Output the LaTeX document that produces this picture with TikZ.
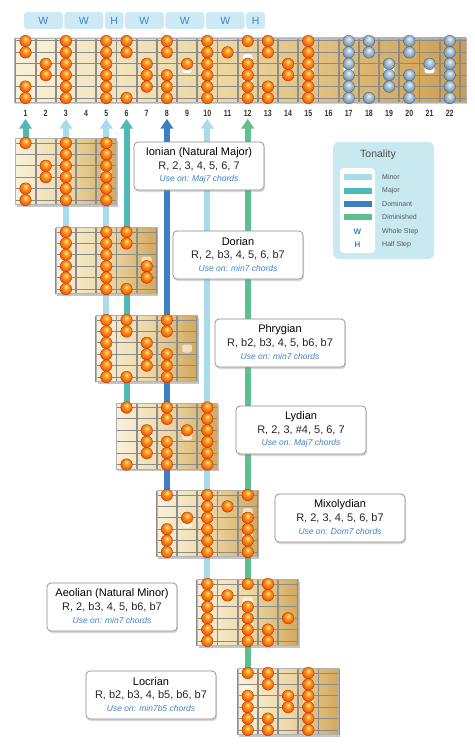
\documentclass[tikz,border=0pt]{standalone}
\usepackage{fontspec}
\setmainfont{Liberation Sans}
\usetikzlibrary{shadows}
\definecolor{minorc}{HTML}{A9DBE9}
\definecolor{majorc}{HTML}{4EB9B6}
\definecolor{domc}{HTML}{3E7FC3}
\definecolor{dimc}{HTML}{5CC18D}
\definecolor{stepbg}{HTML}{CDE9F3}
\definecolor{steptxt}{HTML}{3C86C6}
\definecolor{legbg}{HTML}{C9E9F1}
\definecolor{boardlight}{HTML}{F9F1D8}
\definecolor{boardmid}{HTML}{EAD39C}
\definecolor{boarddark}{HTML}{CC9E4E}
\definecolor{fretc}{HTML}{8C8C8C}
\definecolor{strc}{HTML}{8A8A8A}
\definecolor{usec}{HTML}{3F83C7}
\definecolor{framec}{HTML}{8A8A8A}
\definecolor{dotin}{HTML}{FFF0A0}
\definecolor{dotmid}{HTML}{FF9C1C}
\definecolor{dotout}{HTML}{E8440C}
\definecolor{dotrim}{HTML}{B02808}
\definecolor{bdotin}{HTML}{EEF4FA}
\definecolor{bdotmid}{HTML}{ADC4D8}
\definecolor{bdotout}{HTML}{5E7E9C}
\definecolor{bdotrim}{HTML}{3F5A75}
\definecolor{numc}{HTML}{333333}
\definecolor{legtxt}{HTML}{555555}

\pgfdeclareradialshading{odotshade}{\pgfpoint{0bp}{10bp}}{color(0bp)=(dotin); color(11bp)=(dotmid); color(30bp)=(dotout); color(43bp)=(dotout); color(50bp)=(dotrim)}
\pgfdeclareradialshading{bdotshade}{\pgfpoint{0bp}{10bp}}{color(0bp)=(bdotin); color(12bp)=(bdotmid); color(32bp)=(bdotout); color(44bp)=(bdotout); color(50bp)=(bdotrim)}

\newcommand\FX[1]{(25.5+20.2*(#1-1))}

\tikzset{
  odot/.style={shade, shading=odotshade, draw=dotrim, line width=0.3pt},
  bdot/.style={shade, shading=bdotshade, draw=bdotrim, line width=0.3pt},
  fretline/.style={draw=fretc, line width=1.8pt},
  stringline/.style={draw=strc, line width=1pt},
  inlay/.style={fill=white, draw=gray!45, line width=0.3pt, rounded corners=2.5pt},
  sinlay/.style={fill=white, fill opacity=0.6, rounded corners=2.5pt},
  modebox/.style={draw=framec, fill=white, rounded corners=4pt, line width=0.7pt, minimum width=130pt, minimum height=48pt, inner sep=0pt, drop shadow={shadow xshift=1pt, shadow yshift=-2pt, opacity=0.3}},
  titletxt/.style={font=\fontsize{11}{12}\selectfont, text=black, inner sep=0pt},
  inttxt/.style={font=\fontsize{11}{12}\selectfont, text=black!85, inner sep=0pt},
  usetxt/.style={font=\itshape\fontsize{8.5}{10}\selectfont, text=usec, inner sep=0pt},
  stepbox/.style={fill=stepbg, rounded corners=3pt, inner sep=0pt},
  steplabel/.style={font=\fontsize{10.5}{11}\selectfont, text=steptxt},
  fretnum/.style={font=\bfseries\fontsize{9}{10}\selectfont, text=numc, inner sep=0pt},
  legtext/.style={font=\fontsize{7}{8}\selectfont, text=legtxt, anchor=west, inner sep=0pt},
  tonline/.style={line width=6pt},
}

\newcommand\smallboard[3]{%
  \pgfmathsetmacro\bl{\FX{#1}-10}%
  \pgfmathsetmacro\br{\FX{#1}+4*20.2+10}%
  \pgfmathsetmacro\bt{#2-4.5}%
  \pgfmathsetmacro\bb{#2+57+4.5}%
  \path[drop shadow={shadow xshift=1.5pt,shadow yshift=-2pt,opacity=0.45}, left color=boardlight, right color=boarddark!80!boardmid, middle color=boardmid!80!boardlight] (\bl,\bt) rectangle (\br,\bb);
  \foreach \f in {3,5,7,9,15}{%
    \ifnum\f<#1\relax\else\ifnum\f>\numexpr#1+4\relax\else
      \path[sinlay] ({\FX{\f}-5},{#2+28.5-4}) rectangle ({\FX{\f}+5},{#2+28.5+4});
    \fi\fi}
  \ifnum12<#1\relax\else\ifnum12>\numexpr#1+4\relax\else
    \path[sinlay] ({\FX{12}-5},{#2+17-4}) rectangle ({\FX{12}+5},{#2+17+4});
    \path[sinlay] ({\FX{12}-5},{#2+40-4}) rectangle ({\FX{12}+5},{#2+40+4});
  \fi\fi
  \foreach \k in {0,...,5}{\draw[fretline] ({\bl+20.2*\k},\bt) -- ({\bl+20.2*\k},\bb);}
  \foreach \s in {0,...,5}{\draw[stringline] (\bl,{#2+11.4*\s}) -- (\br,{#2+11.4*\s});}
  \draw[gray!60, line width=0.4pt] (\bl,\bt) rectangle (\br,\bb);
  \foreach \f/\ss in {#3}{\foreach \s in \ss {\path[odot] ({\FX{\f}},{#2+11.4*(\s-1)}) circle (5.8pt);}}
}

\newcommand\modebox[6]{%
  \node[modebox] (#1) at (#2,#3) {};
  \node[titletxt] (#1-t) at (#2,#3-13) {#4};
  \node[inttxt] (#1-i) at (#2,#3) {#5};
  \node[usetxt] (#1-u) at (#2,#3+13.5) {#6};
}

\begin{document}
\begin{tikzpicture}[x=1pt,y=-1pt]
\useasboundingbox (0,0) rectangle (474,752);
\fill[white] (0,0) rectangle (474,752);

% step boxes
\foreach \a/\b/\t [count=\i] in {1/3/W,3/5/W,5/6/H,6/8/W,8/10/W,10/12/W,12/13/H}{
  \pgfmathsetmacro\xa{\FX{\a}-1.5}
  \pgfmathsetmacro\xb{\FX{\b}-3}
  \pgfmathsetmacro\xw{\xb-\xa}
  \node[stepbox, steplabel, minimum width=\xw pt, minimum height=17pt] (st\i) at ({(\xa+\xb)/2},20.5) {\t};
}

% top board
\path[drop shadow={shadow xshift=1pt,shadow yshift=-1.5pt,opacity=0.35}, left color=boardlight, right color=boarddark, middle color=boardmid] (14,38) rectangle (466,102);
\foreach \f in {3,5,7,9,15,17,19,21}{
  \path[inlay] ({\FX{\f}-5},65.5) rectangle ({\FX{\f}+5},73.5);}
\path[inlay] ({\FX{12}-5},54) rectangle ({\FX{12}+5},62);
\path[inlay] ({\FX{12}-5},77) rectangle ({\FX{12}+5},85);
\foreach \f in {1,...,23}{\draw[fretline] ({\FX{\f}-10},38) -- ({\FX{\f}-10},102);}
\foreach \s in {0,...,5}{\draw[stringline] (14,{41+11.4*\s}) -- (466,{41+11.4*\s});}
\draw[gray!60, line width=0.4pt] (14,38) rectangle (466,102);
\foreach \f/\ss in {1/{1,2,5,6},2/{3,4},3/{1,...,6},5/{1,...,6},6/{1,2,6},7/{3,4,5},8/{1,2,4,5,6},9/{3},10/{1,...,6},11/{2},12/{1,3,4,5,6},13/{1,2,5,6},14/{3,4},15/{1,...,6}}{
  \foreach \s in \ss {\path[odot] ({\FX{\f}},{41+11.4*(\s-1)}) circle (5.8pt);}}
\foreach \f/\ss in {17/{1,...,6},18/{1,2,6},19/{3,4,5},20/{1,2,4,5,6},21/{3},22/{1,...,6}}{
  \foreach \s in \ss {\path[bdot] ({\FX{\f}},{41+11.4*(\s-1)}) circle (5.8pt);}}

% fret numbers
\foreach \f in {1,...,22}{\node[fretnum] (n\f) at ({\FX{\f}},113) {\scalebox{0.78}[1]{\f}};}

% tonality lines and arrows
\foreach \f/\c/\yb [count=\i] in {1/majorc/138.5,3/minorc/227.5,5/minorc/315.5,6/majorc/403,8/domc/490.5,10/minorc/579.5,12/dimc/668.5}{
  \coordinate (ta\i) at ({\FX{\f}},127);
  \coordinate (tb\i) at ({\FX{\f}},\yb+2);
  \draw[tonline, draw=\c] (ta\i) -- (tb\i);
  \fill[fill=\c] ({\FX{\f}},119) -- ({\FX{\f}+6.5},128.5) -- ({\FX{\f}-6.5},128.5) -- cycle;
}

% small boards
\smallboard{1}{143}{1/{1,5,6},2/{3,4},3/{1,...,6},5/{1,...,6}}
\smallboard{3}{232}{3/{1,...,6},5/{1,...,6},6/{1,2,6},7/{4,5}}
\smallboard{5}{320}{5/{1,...,6},6/{1,2,6},7/{3,4,5},8/{1,2,4,5,6}}
\smallboard{6}{407.5}{6/{1,6},7/{3,4,5},8/{1,2,4,5,6},9/{3},10/{1,...,6}}
\smallboard{8}{495}{8/{1,4,5,6},9/{3},10/{1,...,6},11/{2},12/{1,3,4,5,6}}
\smallboard{10}{584}{10/{1,...,6},11/{2},12/{1,3,4,5,6},13/{1,2,5,6},14/{4}}
\smallboard{12}{673}{12/{1,3,4,5,6},13/{1,2,5,6},14/{3,4},15/{1,...,6}}

% mode boxes
\modebox{ionian}{199}{166}{Ionian (Natural Major)}{R, 2, 3, 4, 5, 6, 7}{Use on: Maj7 chords}
\modebox{dorian}{238}{255}{Dorian}{R, 2, b3, 4, 5, 6, b7}{Use on: min7 chords}
\modebox{phrygian}{280}{343}{Phrygian}{R, b2, b3, 4, 5, b6, b7}{Use on: min7 chords}
\modebox{lydian}{301}{430}{Lydian}{R, 2, 3, \#4, 5, 6, 7}{Use on: Maj7 chords}
\modebox{mixo}{340}{518}{Mixolydian}{R, 2, 3, 4, 5, 6, b7}{Use on: Dom7 chords}
\modebox{aeolian}{112}{607}{Aeolian (Natural Minor)}{R, 2, b3, 4, 5, b6, b7}{Use on: min7 chords}
\modebox{locrian}{151}{695}{Locrian}{R, b2, b3, 4, b5, b6, b7}{Use on: min7b5 chords}

% legend
\node[fill=legbg, rounded corners=6pt, minimum width=101pt, minimum height=117pt, inner sep=0pt] (legend) at (383.5,200.5) {};
\node[font=\fontsize{10.5}{12}\selectfont, text=black!70, inner sep=0pt] (legtitle) at (378,155) {Tonality};
\node[fill=white, rounded corners=4pt, minimum width=35pt, minimum height=85pt, inner sep=0pt] (legin) at (357.5,210.5) {};
\foreach \c/\y/\t [count=\i] in {minorc/177/Minor,majorc/190.5/Major,domc/204/Dominant,dimc/217/Diminished}{
  \fill[fill=\c] (344,\y-3) rectangle (372,\y+3);
  \node[legtext] (lg\i) at (382,\y) {\t};
}
\node[font=\bfseries\fontsize{8}{9}\selectfont, text=steptxt, inner sep=0pt] (legw) at (357.5,231.5) {W};
\node[font=\bfseries\fontsize{8}{9}\selectfont, text=steptxt, inner sep=0pt] (legh) at (357.5,244.5) {H};
\node[legtext] (lg5) at (382,231.5) {Whole Step};
\node[legtext] (lg6) at (382,244.5) {Half Step};
\end{tikzpicture}
\end{document}
